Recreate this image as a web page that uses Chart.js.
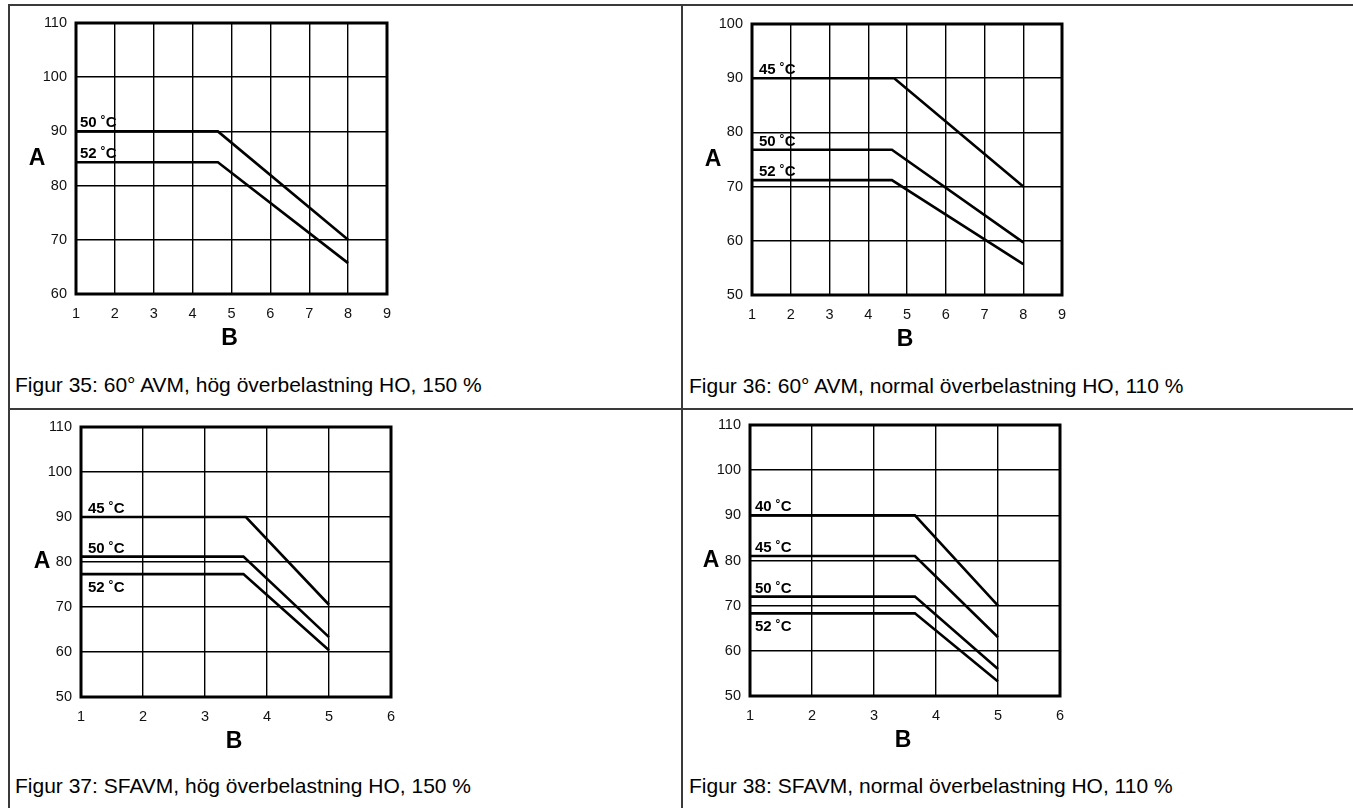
<!DOCTYPE html>
<html>
<head>
<meta charset="utf-8">
<script src="https://cdn.jsdelivr.net/npm/chart.js@4/dist/chart.umd.min.js"></script>
<style>
  html, body { margin: 0; padding: 0; background: #fff; overflow: hidden; }
  body { width: 1353px; height: 808px; position: relative; font-family: 'Liberation Sans', Arial, sans-serif; }
  .rule { position: absolute; background: #3a3a3a; }
  .panel { position: absolute; }
  .caption { position: absolute; font-size: 21px; line-height: 21px; color: #000; white-space: nowrap; }
</style>
</head>
<body>
<div class="rule" style="left:9px;top:4px;width:1344px;height:2px"></div>
<div class="rule" style="left:9px;top:408px;width:1344px;height:2px"></div>
<div class="rule" style="left:8px;top:4px;width:2px;height:804px"></div>
<div class="rule" style="left:681px;top:4px;width:2px;height:804px"></div>

<div class="caption" style="left:15px;top:374px">Figur 35: 60° AVM, hög överbelastning HO, 150 %</div>
<div class="caption" style="left:689px;top:375px">Figur 36: 60° AVM, normal överbelastning HO, 110 %</div>
<div class="caption" style="left:15px;top:775px">Figur 37: SFAVM, hög överbelastning HO, 150 %</div>
<div class="caption" style="left:689px;top:775px">Figur 38: SFAVM, normal överbelastning HO, 110 %</div>

<div class="panel" id="p35"><canvas id="fig35"></canvas></div>
<div class="panel" id="p36"><canvas id="fig36"></canvas></div>
<div class="panel" id="p37"><canvas id="fig37"></canvas></div>
<div class="panel" id="p38"><canvas id="fig38"></canvas></div>

<script>
'use strict';

// Figur 35: 60° AVM, hög överbelastning
var fig35Labels = ['50 ˚C', '52 ˚C'];
var fig35X = [[1, 4.65, 8], [1, 4.65, 8]];
var fig35Y = [[90, 90, 70], [84.3, 84.3, 65.7]];
var fig35XRange = [1, 9];
var fig35YRange = [60, 110];

// Figur 36: 60° AVM, normal överbelastning
var fig36Labels = ['45 ˚C', '50 ˚C', '52 ˚C'];
var fig36X = [[1, 4.67, 8], [1, 4.61, 8], [1, 4.61, 8]];
var fig36Y = [[90, 90, 70], [76.8, 76.8, 59.7], [71.2, 71.2, 55.7]];
var fig36XRange = [1, 9];
var fig36YRange = [50, 100];

// Figur 37: SFAVM, hög överbelastning
var fig37Labels = ['45 ˚C', '50 ˚C', '52 ˚C'];
var fig37X = [[1, 3.66, 5], [1, 3.62, 5], [1, 3.62, 5]];
var fig37Y = [[90, 90, 70.5], [81.2, 81.2, 63.3], [77.3, 77.3, 60.4]];
var fig37XRange = [1, 6];
var fig37YRange = [50, 110];

// Figur 38: SFAVM, normal överbelastning
var fig38Labels = ['40 ˚C', '45 ˚C', '50 ˚C', '52 ˚C'];
var fig38X = [[1, 3.66, 5], [1, 3.66, 5], [1, 3.66, 5], [1, 3.66, 5]];
var fig38Y = [[90, 90, 70], [81, 81, 63], [72, 72, 56], [68.3, 68.3, 53.2]];
var fig38XRange = [1, 6];
var fig38YRange = [50, 110];

(function () {
  var fontFamily = "'Liberation Sans', Arial, sans-serif";
  var padLeft = 70;
  var padTop = 20;
  var padRight = 20;
  var padBottom = 60;

  var panels = [
    { id: 'fig35', box: [76, 23, 387, 294], labels: fig35Labels, xs: fig35X, ys: fig35Y,
      xRange: fig35XRange, yRange: fig35YRange, below: [false, false], inset: 4 },
    { id: 'fig36', box: [752, 24, 1062, 295], labels: fig36Labels, xs: fig36X, ys: fig36Y,
      xRange: fig36XRange, yRange: fig36YRange, below: [false, false, false], inset: 7 },
    { id: 'fig37', box: [81, 427, 391, 697], labels: fig37Labels, xs: fig37X, ys: fig37Y,
      xRange: fig37XRange, yRange: fig37YRange, below: [false, false, true], inset: 7 },
    { id: 'fig38', box: [750, 425, 1060, 696], labels: fig38Labels, xs: fig38X, ys: fig38Y,
      xRange: fig38XRange, yRange: fig38YRange, below: [false, false, false, true], inset: 5 }
  ];

  function panelText(panel) {
    return {
      id: 'panelText',
      afterDraw: function (chart) {
        var ctx = chart.ctx;
        var area = chart.chartArea;
        var yScale = chart.scales.y;
        ctx.save();
        ctx.strokeStyle = '#000';
        ctx.lineWidth = 3;
        ctx.strokeRect(area.left, area.top, area.right - area.left, area.bottom - area.top);

        ctx.fillStyle = '#000';
        ctx.font = 'bold 23px ' + fontFamily;
        ctx.textAlign = 'center';
        ctx.textBaseline = 'middle';
        ctx.fillText('A', area.left - 39, (area.top + area.bottom) / 2);
        ctx.fillText('B', (area.left + area.right) / 2 - 2, area.bottom + 45);

        ctx.font = 'bold 15px ' + fontFamily;
        ctx.textAlign = 'left';
        ctx.textBaseline = 'alphabetic';
        for (var i = 0; i < panel.labels.length; i++) {
          var y = yScale.getPixelForValue(panel.ys[i][0]);
          ctx.fillText(panel.labels[i], area.left + panel.inset, panel.below[i] ? y + 18 : y - 4);
        }
        ctx.restore();
      }
    };
  }

  panels.forEach(function (panel) {
    var b = panel.box;
    var holder = document.getElementById('p' + panel.id.slice(3));
    holder.style.left = (b[0] - padLeft) + 'px';
    holder.style.top = (b[1] - padTop) + 'px';
    holder.style.width = (b[2] - b[0] + padLeft + padRight) + 'px';
    holder.style.height = (b[3] - b[1] + padTop + padBottom) + 'px';

    var datasets = panel.ys.map(function (vals, i) {
      return {
        label: panel.labels[i],
        data: vals.map(function (v, j) { return { x: panel.xs[i][j], y: v }; }),
        borderColor: '#000',
        borderWidth: 2.6,
        pointRadius: 0,
        tension: 0,
        fill: false
      };
    });

    new Chart(document.getElementById(panel.id), {
      type: 'line',
      data: { datasets: datasets },
      options: {
        responsive: true,
        maintainAspectRatio: false,
        animation: false,
        layout: { padding: { top: padTop, right: padRight, left: 0, bottom: 0 } },
        plugins: {
          legend: { display: false },
          tooltip: { enabled: false }
        },
        scales: {
          x: {
            type: 'linear',
            min: panel.xRange[0],
            max: panel.xRange[1],
            border: { display: false },
            grid: { color: '#000', lineWidth: 1.4, drawTicks: false },
            ticks: { stepSize: 1, padding: 11, color: '#111', font: { family: fontFamily, size: 14.5 } },
            afterFit: function (scale) { scale.height = padBottom; }
          },
          y: {
            type: 'linear',
            min: panel.yRange[0],
            max: panel.yRange[1],
            border: { display: false },
            grid: { color: '#000', lineWidth: 1.4, drawTicks: false },
            ticks: { stepSize: 10, padding: 9, color: '#111', font: { family: fontFamily, size: 14.5 } },
            afterFit: function (scale) { scale.width = padLeft; }
          }
        }
      },
      plugins: [panelText(panel)]
    });
  });
})();
</script>
</body>
</html>
